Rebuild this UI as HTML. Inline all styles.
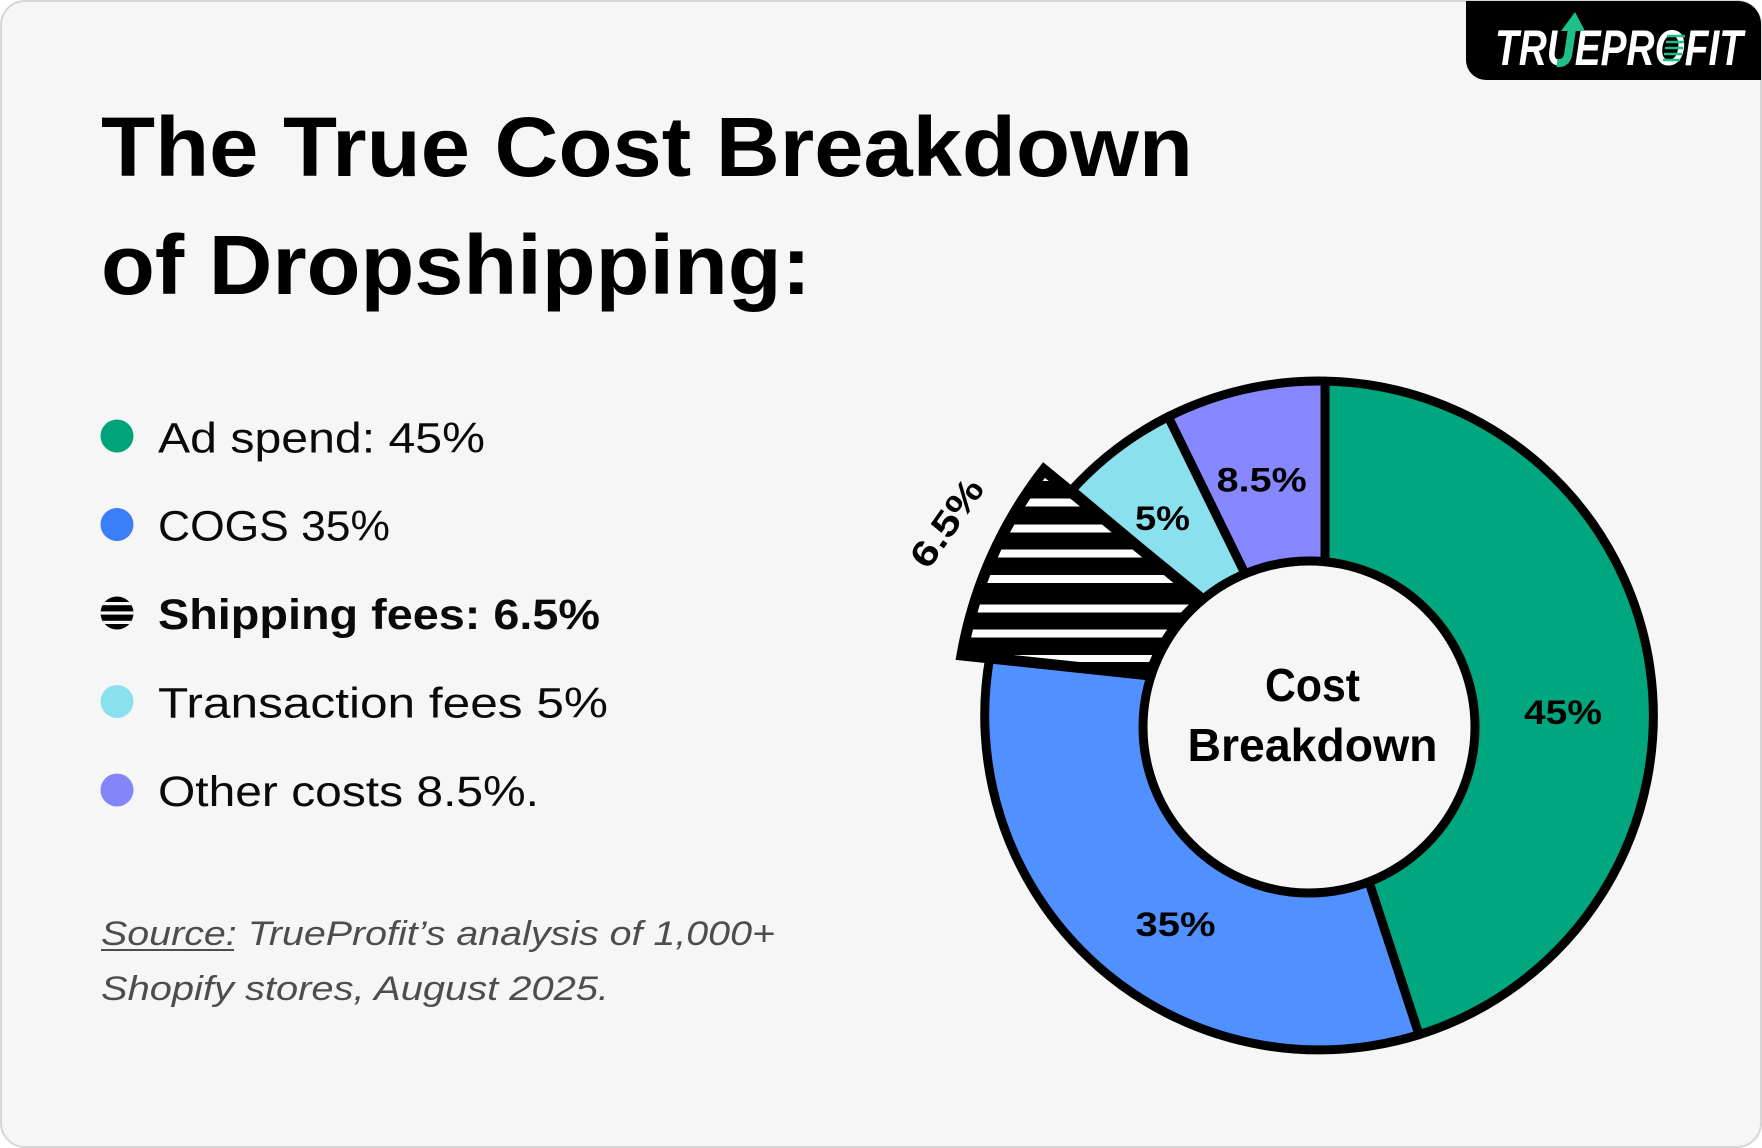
<!DOCTYPE html>
<html>
<head>
<meta charset="utf-8">
<style>
  html,body{margin:0;padding:0;background:#ffffff;}
  svg{display:block;}
</style>
</head>
<body>
<svg width="1762" height="1148" viewBox="0 0 1762 1148" xmlns="http://www.w3.org/2000/svg">
  <defs>
    <clipPath id="wedgeClip">
      <path d="M 1044,470 L 1202.7,599.7 A 166 166 0 0 0 1150,675 L 962,655 A 420 420 0 0 1 1044,470 Z"/>
    </clipPath>
    <clipPath id="legClip">
      <circle cx="117" cy="613" r="16.5"/>
    </clipPath>
  </defs>

  <!-- card -->
  <rect x="1" y="1" width="1760" height="1146" rx="24" ry="24" fill="#f6f6f6" stroke="#d6d6d6" stroke-width="2"/>

  <!-- logo badge -->
  <path d="M1466,1 H1738 A23,23 0 0 1 1761,24 V80 H1486 A20,20 0 0 1 1466,60 Z" fill="#000"/>
  <text x="1495" y="65" font-family="Liberation Sans, sans-serif" font-weight="bold" font-style="italic" font-size="50" fill="#fff" textLength="248" lengthAdjust="spacingAndGlyphs">TRUEPROFIT</text>
  <path d="M1557,63 Q1566,64 1568,55 L1572,29" fill="none" stroke="#1fbf8a" stroke-width="8" stroke-linecap="butt"/>
  <polygon points="1561,31 1575,12 1585,31" fill="#1fbf8a"/>
  <g stroke="#1fbf8a" stroke-width="2.5">
    <line x1="1667" y1="36" x2="1685" y2="36"/>
    <line x1="1666" y1="42" x2="1684" y2="42"/>
    <line x1="1665" y1="48" x2="1683" y2="48"/>
    <line x1="1664" y1="54" x2="1682" y2="54"/>
    <line x1="1663" y1="60" x2="1680" y2="60"/>
  </g>

  <!-- title -->
  <g font-family="Liberation Sans, sans-serif" font-weight="bold" font-size="84" fill="#000">
    <text x="101" y="176" textLength="1092" lengthAdjust="spacingAndGlyphs">The True Cost Breakdown</text>
    <text x="101" y="294" textLength="710" lengthAdjust="spacingAndGlyphs">of Dropshipping:</text>
  </g>

  <!-- legend -->
  <circle cx="117" cy="436" r="16.5" fill="#00a37a"/>
  <circle cx="117" cy="524.5" r="16.5" fill="#3a7ff7"/>
  <g clip-path="url(#legClip)">
    <rect x="99" y="595" width="36" height="36" fill="#000"/>
    <rect x="99" y="602" width="36" height="3.2" fill="#f6f6f6"/>
    <rect x="99" y="611.4" width="36" height="3.2" fill="#f6f6f6"/>
    <rect x="99" y="620.8" width="36" height="3.2" fill="#f6f6f6"/>
  </g>
  <circle cx="117" cy="701.5" r="16.5" fill="#8be0ee"/>
  <circle cx="117" cy="790" r="16.5" fill="#8585fa"/>

  <g font-family="Liberation Sans, sans-serif" font-size="43" fill="#0a0a0a">
    <text x="158" y="452.7" textLength="327" lengthAdjust="spacingAndGlyphs">Ad spend: 45%</text>
    <text x="158" y="540.5" textLength="232" lengthAdjust="spacingAndGlyphs">COGS 35%</text>
    <text x="158" y="629" font-weight="bold" textLength="442" lengthAdjust="spacingAndGlyphs">Shipping fees: 6.5%</text>
    <text x="158" y="717.5" textLength="450" lengthAdjust="spacingAndGlyphs">Transaction fees 5%</text>
    <text x="158" y="806" textLength="381" lengthAdjust="spacingAndGlyphs">Other costs 8.5%.</text>
  </g>

  <!-- source -->
  <g font-family="Liberation Sans, sans-serif" font-style="italic" font-size="34" fill="#4d4d4d">
    <text x="101" y="945" textLength="674" lengthAdjust="spacingAndGlyphs">Source: TrueProfit’s analysis of 1,000+</text>
    <text x="101" y="1000" textLength="508" lengthAdjust="spacingAndGlyphs">Shopify stores, August 2025.</text>
  </g>
  <rect x="101" y="949" width="133" height="2" fill="#4d4d4d"/>

  <!-- donut segments -->
  <g stroke="#000" stroke-width="9" stroke-linejoin="round">
    <path d="M 1325,561 L 1325,381.1 A 334.5 334.5 0 0 1 1419,1034.7 L 1369,882 Z" fill="#00a67e"/>
    <path d="M 1369,882 L 1419,1034.7 A 334.5 334.5 0 0 1 989.7,657.9 L 1150,675 Z" fill="#5090ff"/>
    <path d="M 1202.7,599.7 L 1071.8,490.1 A 334.5 334.5 0 0 1 1168.2,416.7 L 1245.1,573.7 Z" fill="#8be0ee"/>
    <path d="M 1245.1,573.7 L 1168.2,416.7 A 334.5 334.5 0 0 1 1325,381.1 L 1325,561 Z" fill="#8787ff"/>
  </g>

  <!-- shipping wedge (hatched) -->
  <path d="M 1044,470 L 1202.7,599.7 A 166 166 0 0 0 1150,675 L 962,655 A 420 420 0 0 1 1044,470 Z" fill="#000"/>
  <g clip-path="url(#wedgeClip)" fill="#fff">
    <rect x="940" y="476" width="280" height="5"/>
    <rect x="940" y="498.5" width="280" height="8"/>
    <rect x="940" y="524.5" width="280" height="8"/>
    <rect x="940" y="549.5" width="280" height="8"/>
    <rect x="940" y="575" width="280" height="8"/>
    <rect x="940" y="604.5" width="280" height="8"/>
    <rect x="940" y="629.5" width="280" height="8"/>
    <rect x="940" y="655" width="280" height="7"/>
  </g>
  <path d="M 1044,470 L 1202.7,599.7 A 166 166 0 0 0 1150,675 L 962,655 A 420 420 0 0 1 1044,470 Z" fill="none" stroke="#000" stroke-width="11" stroke-linejoin="miter" stroke-miterlimit="10"/>

  <!-- hole -->
  <circle cx="1309" cy="727" r="166" fill="#f6f6f6" stroke="#000" stroke-width="9"/>

  <!-- chart labels -->
  <g font-family="Liberation Sans, sans-serif" font-weight="bold" fill="#000" text-anchor="middle">
    <text x="1563" y="724" font-size="34" textLength="78" lengthAdjust="spacingAndGlyphs">45%</text>
    <text x="1175.5" y="936" font-size="34" textLength="80" lengthAdjust="spacingAndGlyphs">35%</text>
    <text x="1261.7" y="491.5" font-size="34" textLength="90" lengthAdjust="spacingAndGlyphs">8.5%</text>
    <text x="1162.5" y="530" font-size="34" textLength="55" lengthAdjust="spacingAndGlyphs">5%</text>
    <text x="1312.5" y="701" font-size="46" textLength="95" lengthAdjust="spacingAndGlyphs">Cost</text>
    <text x="1312.5" y="761" font-size="46" textLength="250" lengthAdjust="spacingAndGlyphs">Breakdown</text>
    <text x="0" y="12" font-size="36" textLength="100" lengthAdjust="spacingAndGlyphs" transform="translate(947,523) rotate(-55)">6.5%</text>
  </g>
</svg>
</body>
</html>
